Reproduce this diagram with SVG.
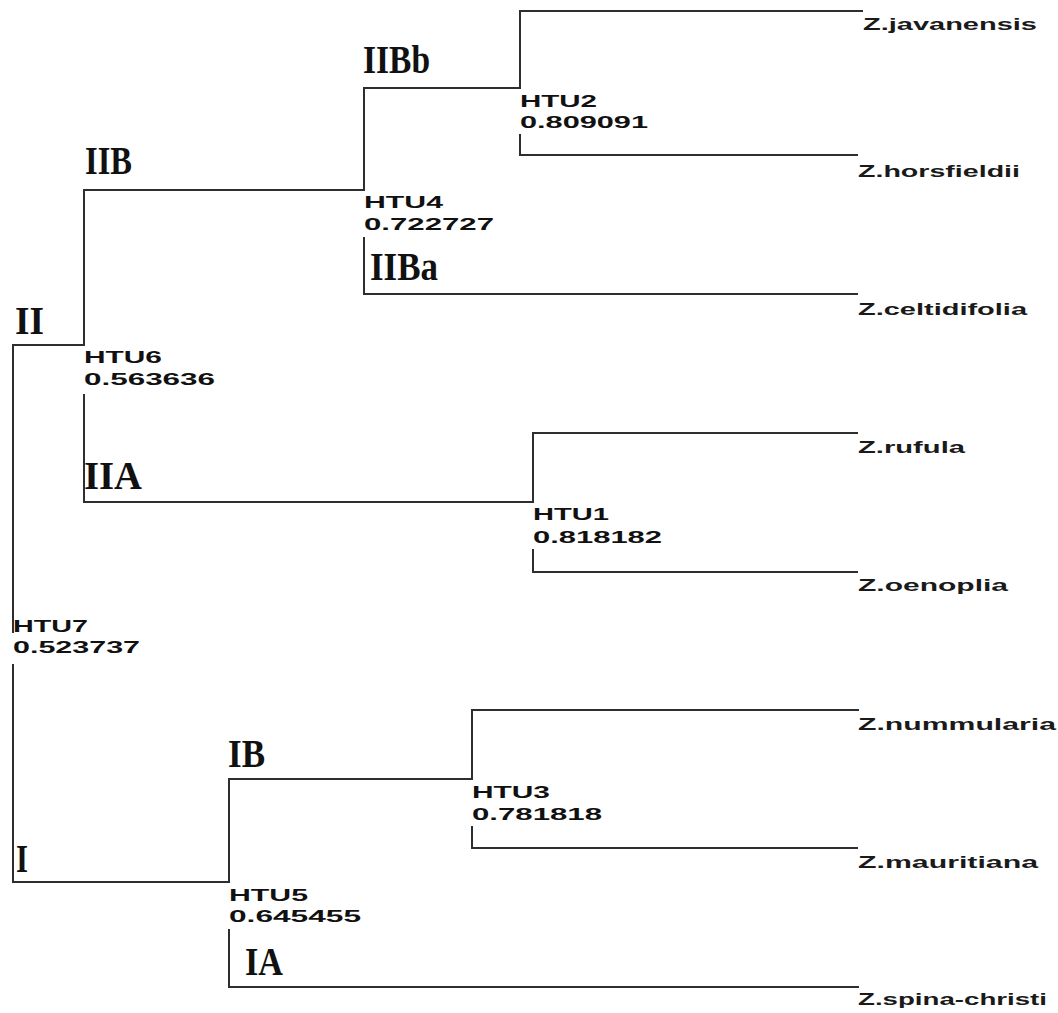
<svg xmlns="http://www.w3.org/2000/svg" width="1058" height="1013" viewBox="0 0 1058 1013">
<style>
.br{fill:none;stroke:#2e2e2e;stroke-width:2;stroke-linecap:square}
.htu{font-family:"Liberation Sans",Arial,sans-serif;font-size:17px;font-weight:bold;fill:#111}
.leaf{font-family:"Liberation Sans",Arial,sans-serif;font-size:16.5px;font-weight:bold;fill:#1a1a1a}
.cl{font-family:"Liberation Serif","Times New Roman",serif;font-size:40px;font-weight:bold;fill:#111}
</style>
<rect width="1058" height="1013" fill="#fff"/>
<g id="connectors" class="br">
<path d="M13 345V632M13 665V882M13 345H84M13 882H229"/>
<path d="M84 190V345M84 395V502M84 190H364M84 502H533"/>
<path d="M364 88V190M364 238V294M364 88H520M364 294H857"/>
<path d="M520 11V88M520 135V155M520 11H862M520 155H857"/>
<path d="M533 433V502M533 550V572M533 433H857M533 572H857"/>
<path d="M229 779V882M229 930V987M229 779H472M229 987H858"/>
<path d="M472 710V779M472 827V848M472 710H858M472 848H857"/>
</g>
<g id="clades">
<text class="cl" x="363" y="73" textLength="67" lengthAdjust="spacingAndGlyphs">IIBb</text>
<text class="cl" x="85" y="174" textLength="47" lengthAdjust="spacingAndGlyphs">IIB</text>
<text class="cl" x="15" y="334" textLength="29" lengthAdjust="spacingAndGlyphs">II</text>
<text class="cl" x="370" y="280" textLength="68" lengthAdjust="spacingAndGlyphs">IIBa</text>
<text class="cl" x="84" y="489" textLength="58" lengthAdjust="spacingAndGlyphs">IIA</text>
<text class="cl" x="228" y="767" textLength="37" lengthAdjust="spacingAndGlyphs">IB</text>
<text class="cl" x="16" y="872" textLength="12" lengthAdjust="spacingAndGlyphs">I</text>
<text class="cl" x="245" y="975" textLength="38" lengthAdjust="spacingAndGlyphs">IA</text>
</g>
<g id="HTU7"><text class="htu" x="13" y="632" textLength="75" lengthAdjust="spacingAndGlyphs">HTU7</text><text class="htu" x="13" y="653" textLength="127" lengthAdjust="spacingAndGlyphs">0.523737</text></g>
<g id="HTU6"><text class="htu" x="84" y="363" textLength="78" lengthAdjust="spacingAndGlyphs">HTU6</text><text class="htu" x="84" y="385" textLength="131" lengthAdjust="spacingAndGlyphs">0.563636</text></g>
<g id="HTU4"><text class="htu" x="364" y="208" textLength="79" lengthAdjust="spacingAndGlyphs">HTU4</text><text class="htu" x="364" y="230" textLength="130" lengthAdjust="spacingAndGlyphs">0.722727</text></g>
<g id="HTU2"><text class="htu" x="520" y="107" textLength="77" lengthAdjust="spacingAndGlyphs">HTU2</text><text class="htu" x="520" y="128" textLength="128" lengthAdjust="spacingAndGlyphs">0.809091</text></g>
<g id="HTU1"><text class="htu" x="533" y="520" textLength="76" lengthAdjust="spacingAndGlyphs">HTU1</text><text class="htu" x="533" y="543" textLength="129" lengthAdjust="spacingAndGlyphs">0.818182</text></g>
<g id="HTU3"><text class="htu" x="472" y="798" textLength="78" lengthAdjust="spacingAndGlyphs">HTU3</text><text class="htu" x="472" y="820" textLength="130" lengthAdjust="spacingAndGlyphs">0.781818</text></g>
<g id="HTU5"><text class="htu" x="229" y="901" textLength="79" lengthAdjust="spacingAndGlyphs">HTU5</text><text class="htu" x="229" y="922" textLength="132" lengthAdjust="spacingAndGlyphs">0.645455</text></g>
<g id="leaf-javanensis"><text class="leaf" x="863" y="30" textLength="174" lengthAdjust="spacingAndGlyphs">Z.javanensis</text></g>
<g id="leaf-horsfieldii"><text class="leaf" x="858" y="177" textLength="162" lengthAdjust="spacingAndGlyphs">Z.horsfieldii</text></g>
<g id="leaf-celtidifolia"><text class="leaf" x="858" y="315" textLength="169" lengthAdjust="spacingAndGlyphs">Z.celtidifolia</text></g>
<g id="leaf-rufula"><text class="leaf" x="858" y="453" textLength="107" lengthAdjust="spacingAndGlyphs">Z.rufula</text></g>
<g id="leaf-oenoplia"><text class="leaf" x="858" y="591" textLength="150" lengthAdjust="spacingAndGlyphs">Z.oenoplia</text></g>
<g id="leaf-nummularia"><text class="leaf" x="858" y="730" textLength="198" lengthAdjust="spacingAndGlyphs">Z.nummularia</text></g>
<g id="leaf-mauritiana"><text class="leaf" x="858" y="868" textLength="180" lengthAdjust="spacingAndGlyphs">Z.mauritiana</text></g>
<g id="leaf-spina-christi"><text class="leaf" x="858" y="1005" textLength="189" lengthAdjust="spacingAndGlyphs">Z.spina-christi</text></g>
</svg>
